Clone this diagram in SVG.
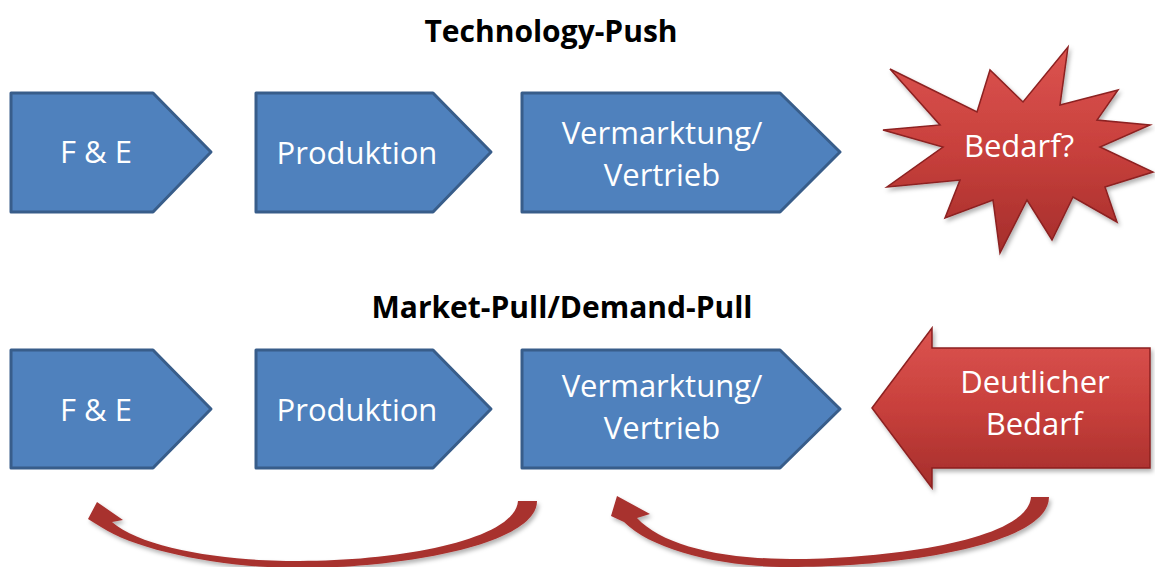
<svg xmlns="http://www.w3.org/2000/svg" width="1155" height="567" viewBox="0 0 1155 567">
<style>
.title{font-family:"Open Sans","Liberation Sans",sans-serif;font-weight:bold;font-size:30px;fill:#000;text-anchor:middle}
.lbl{font-family:"Open Sans","Liberation Sans",sans-serif;font-size:31px;fill:#fff;text-anchor:middle}
.box{fill:#4f81bd;stroke:#385d8a;stroke-width:3;stroke-linejoin:round}
.red{fill:url(#redg);stroke:#8c2020;stroke-width:1.5;stroke-linejoin:miter;filter:url(#sh)}
.curve{fill:#a8302e;filter:url(#sh)}
</style>
<defs>
<linearGradient id="redg" x1="0" y1="0" x2="0" y2="1">
<stop offset="0" stop-color="#dc5450"/>
<stop offset="0.5" stop-color="#c8403c"/>
<stop offset="1" stop-color="#a52e2b"/>
</linearGradient>
<filter id="sh" x="-10%" y="-10%" width="130%" height="130%">
<feDropShadow dx="2" dy="3" stdDeviation="2" flood-color="#000" flood-opacity="0.3"/>
</filter>
</defs>
<rect width="1155" height="567" fill="#fff"/>
<text class="title" x="551" y="42">Technology-Push</text>
<text class="title" x="562" y="318">Market-Pull/Demand-Pull</text>

<g id="fe1"><path class="box" d="M11 93 L153 93 L211 152 L153 212 L11 212 Z"/><text class="lbl" x="96" y="163">F &amp; E</text></g>
<g id="prod1"><path class="box" d="M256 93 L433 93 L491 152 L433 212 L256 212 Z"/><text class="lbl" x="357" y="164">Produktion</text></g>
<g id="verm1"><path class="box" d="M522 93 L780 93 L840 152 L780 212 L522 212 Z"/><text class="lbl" x="662" y="144">Vermarktung/</text><text class="lbl" x="662" y="186">Vertrieb</text></g>
<g id="bedarf1"><path class="red" d="M1068 47 L1060 105 L1118 90 L1097 120 L1150 125 L1100 147 L1153 172 L1105 187 L1117 222 L1073 197 L1052 240 L1027 200 L1000 253 L993 200 L945 218 L960 180 L887 187 L943 147 L883 130 L940 125 L890 69 L977 112 L990 70 L1023 102 Z"/><text class="lbl" x="1019" y="157">Bedarf?</text></g>

<g id="fe2"><path class="box" d="M11 350 L153 350 L211 409 L153 468 L11 468 Z"/><text class="lbl" x="96" y="421">F &amp; E</text></g>
<g id="prod2"><path class="box" d="M256 350 L433 350 L491 409 L433 468 L256 468 Z"/><text class="lbl" x="357" y="421">Produktion</text></g>
<g id="verm2"><path class="box" d="M522 350 L780 350 L840 409 L780 468 L522 468 Z"/><text class="lbl" x="662" y="397">Vermarktung/</text><text class="lbl" x="662" y="439">Vertrieb</text></g>
<g id="bedarf2"><path class="red" d="M872 408 L932 328 L932 348 L1150 348 L1150 468 L932 468 L932 488 Z"/><text class="lbl" x="1035" y="393">Deutlicher</text><text class="lbl" x="1034" y="435">Bedarf</text></g>

<g id="connectors">
<path class="curve" d="M1031 497 L1049 497 C1049 545 900 567 790 567 C720 567 652 550 624 522 L611 516 L617 496 L650 514 L637 518 C662 545 720 559 790 559 C890 559 1028 540 1031 497 Z"/>
<path class="curve" d="M518 501 L537 501 C537 545 400 568 300 568 C220 568 136 550 101 527 L88 519 L97 502 L123 520 L112 522 C142 548 220 561 300 561 C400 561 515 540 518 501 Z"/>
</g>
</svg>
